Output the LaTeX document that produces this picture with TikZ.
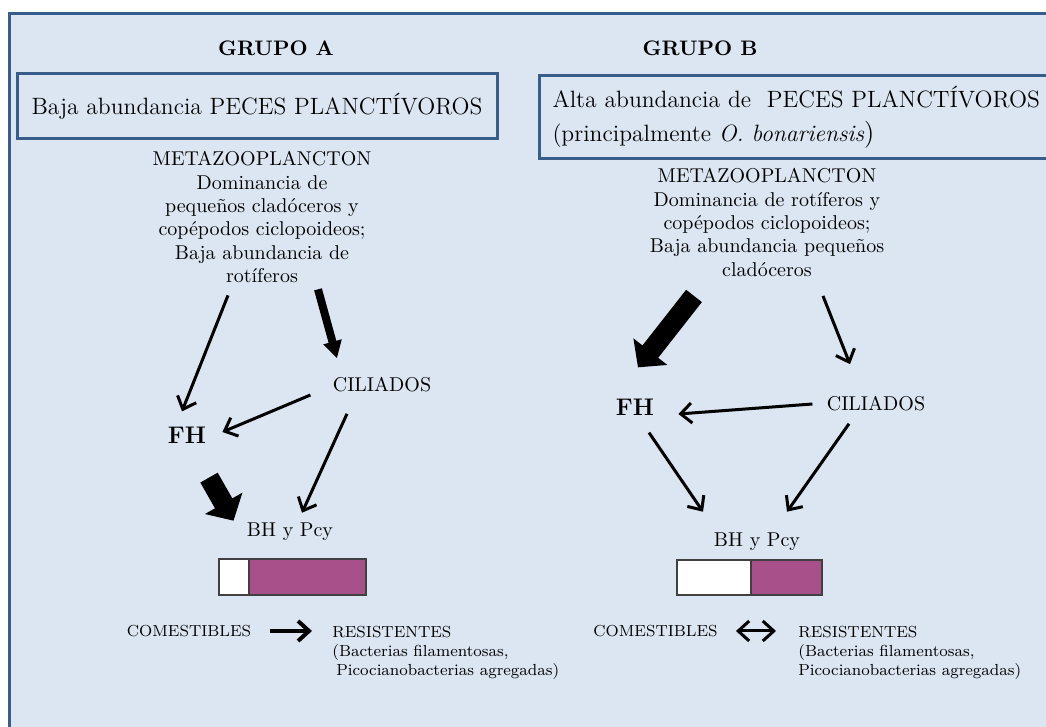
\documentclass[tikz,border=0pt]{standalone}
\usepackage{tikz}
\usetikzlibrary{arrows.meta}
\definecolor{fondo}{RGB}{220,230,242}
\definecolor{marco}{RGB}{56,93,138}
\definecolor{violeta}{RGB}{168,80,138}
\definecolor{gris}{RGB}{64,64,64}

\begin{document}
\begin{tikzpicture}[x=0.5pt,y=-0.5pt,>={Straight Barb[length=5.5pt,width=10pt]},
					flecha/.style={->,line width=1.5pt},
					gruesa/.style={line width=4pt,-{Triangle[length=8.5pt,width=9pt]}},
					masgruesa/.style={line width=10pt,-{Triangle[length=10pt,width=21pt]}}]
					\tikzstyle{every node}=[inner sep=0pt]
					\tikzstyle{texto}=[font=\fontsize{10}{11.7}\selectfont,align=center]
					\tikzstyle{chico}=[font=\fontsize{8}{9.5}\selectfont,align=left]
					\tikzstyle{caja}=[draw=marco,line width=1.5pt,font=\fontsize{11.8}{17}\selectfont]
					\tikzstyle{grupo}=[font=\fontsize{10.5}{12}\bfseries]
					\tikzstyle{barra}=[draw=gris,line width=1.2pt]
					
					\useasboundingbox (0,0) rectangle (1046,727);
					\clip (0,0) rectangle (1046,727);
					\draw[marco,line width=1.5pt,fill=fondo] (9,14) rectangle (1080,760);
					
					% grupo A
					\node[grupo] (grupoA) at (276,48) {GRUPO A};
					\node[caja,minimum width=240pt,minimum height=32.5pt] (pecesA) at (257,106.5)
						{Baja abundancia PECES PLANCTÍVOROS};
					\node[texto,anchor=north] (metaA) at (262,151) {METAZOOPLANCTON\\Dominancia de\\
						pequeños cladóceros y\\copépodos ciclopoideos;\\Baja abundancia de\\rotíferos};
					\node[texto] (ciliA) at (382,385) {CILIADOS};
					\node[font=\fontsize{12}{12}\bfseries] (fhA) at (187,435) {FH};
					\node[texto] (bhA) at (290,532) {BH y Pcy};
					\draw[barra,fill=white] (219,559) rectangle (249,595);
					\draw[barra,fill=violeta] (249,559) rectangle (366,595);
					\node[chico] (comA) at (189,631) {COMESTIBLES};
					\node[chico,anchor=north west] (resA) at (332,625.5)
						{RESISTENTES\\(Bacterias filamentosas,\\\hspace{2pt}Picocianobacterias agregadas)};
					
					\draw[flecha] ([xshift=-17pt,yshift=-6pt]metaA.south) -- ([xshift=-2.5pt,yshift=7.5pt]fhA.north);
					\draw[gruesa] ([xshift=28pt,yshift=-3pt]metaA.south) -- ([xshift=-22.5pt,yshift=9.5pt]ciliA.north);
					\draw[flecha] ([xshift=-11pt,yshift=-5pt]ciliA.west) -- ([xshift=8pt,yshift=1.5pt]fhA.east);
					\draw[flecha] ([xshift=-17.5pt,yshift=-10.5pt]ciliA.south) -- ([xshift=6pt,yshift=5pt]bhA.north);
					\draw[masgruesa] ([xshift=11pt,yshift=-17pt]fhA.south) -- ([xshift=-6.5pt,yshift=1pt]bhA.north west);
					\draw[->,line width=2pt,shorten <=9.5pt,shorten >=10pt] (comA.east) -- (comA.east -| resA.west);
					
					% grupo B
					\node[grupo] (grupoB) at (700,48) {GRUPO B};
					\node[caja,anchor=north west,text width=257pt,inner xsep=6.5pt,minimum height=41.5pt,align=left] (pecesB) at (538,74)
						{Alta abundancia de~ PECES PLANCTÍVOROS\\(principalmente \textit{O. bonariensis}{\fontsize{13.5}{13}\selectfont)}};
					\node[texto,anchor=north] (metaB) at (767,168) {METAZOOPLANCTON\\Dominancia de rotíferos y\\
						copépodos ciclopoideos;\\Baja abundancia pequeños\\cladóceros};
					\node[texto] (ciliB) at (876,404) {CILIADOS};
					\node[font=\fontsize{12}{12}\bfseries] (fhB) at (635,407) {FH};
					\node[texto] (bhB) at (757,542) {BH y Pcy};
					\draw[barra,fill=white] (677,560) rectangle (751,595);
					\draw[barra,fill=violeta] (751,560) rectangle (822,595);
					\node[chico] (comB) at (655.5,631) {COMESTIBLES};
					\node[chico,anchor=north west] (resB) at (798,625.5)
						{RESISTENTES\\(Bacterias filamentosas,\\Picocianobacterias agregadas)};
					
					\draw[masgruesa] ([xshift=-36.5pt,yshift=-9.5pt]metaB.south) -- ([xshift=1.5pt,yshift=15.5pt]fhB.north);
					\draw[flecha] ([xshift=28pt,yshift=-9.5pt]metaB.south) -- ([xshift=-13pt,yshift=16pt]ciliB.north);
					\draw[flecha] ([xshift=-7pt]ciliB.west) -- ([xshift=12pt,yshift=-3.5pt]fhB.east);
					\draw[flecha] ([xshift=7pt,yshift=-8.5pt]fhB.south) -- ([xshift=-27pt,yshift=10.5pt]bhB.north);
					\draw[flecha] ([xshift=-13.5pt,yshift=-6pt]ciliB.south) -- ([xshift=15pt,yshift=10.5pt]bhB.north);
					\draw[<->,line width=1.5pt,shorten <=9pt,shorten >=11pt] (comB.east) -- (comB.east -| resB.west);
\end{tikzpicture}
\end{document}
